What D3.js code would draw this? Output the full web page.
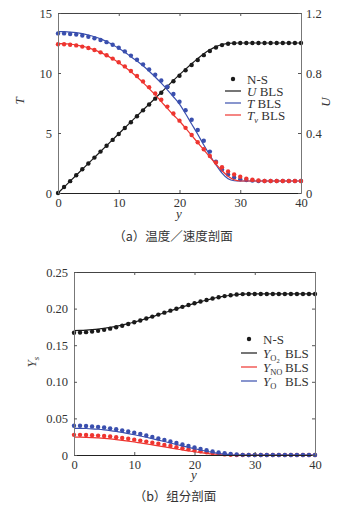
<!DOCTYPE html>
<html>
<head>
<meta charset="utf-8">
<script src="https://cdn.jsdelivr.net/npm/d3@7"></script>
<style>
  html, body { margin: 0; padding: 0; background: #fff; }
  svg { display: block; }
  text { font-family: "Liberation Serif", "DejaVu Serif", serif; fill: #333; }
  .cap { font-family: "Noto Sans CJK SC", sans-serif; }
</style>
</head>
<body>
<div id="chart"></div>
<script>
// Grid of y positions (both panels)
const yPos = [0,1,2,3,4,5,6,7,8,9,10,11,12,13,14,15,16,17,18,19,20,
  21,22,23,24,25,26,27,28,29,30,31,32,33,34,35,36,37,38,39,40];

// Panel (a): temperature / velocity
const uBls = [0,0.0395,0.079,0.1185,0.158,0.1975,0.237,0.2765,0.316,0.3555,0.395,
  0.4345,0.474,0.5135,0.553,0.5925,0.632,0.6715,0.711,0.7505,0.789,
  0.826,0.862,0.896,0.928,0.955,0.976,0.990,0.998,1,1,1,1,1,1,1,1,1,1,1,1];
const uNs = [0,0.04,0.079,0.118,0.158,0.197,0.236,0.276,0.315,0.354,0.393,
  0.433,0.472,0.512,0.551,0.590,0.629,0.668,0.707,0.745,0.782,
  0.818,0.853,0.887,0.919,0.947,0.970,0.986,0.995,0.999,1,1,1,1,1,1,1,1,1,1,1];
const tBls = [13.45,13.44,13.41,13.36,13.28,13.17,13.02,12.84,12.62,12.36,12.06,
  11.73,11.36,11.0,10.6,10.15,9.67,9.15,8.6,8.02,7.4,
  6.6,5.75,4.9,4.0,3.15,2.35,1.65,1.18,1.02,1,1,1,1,1,1,1,1,1,1,1];
const tNs = [13.3,13.3,13.25,13.2,13.12,13.02,12.9,12.75,12.57,12.35,12.1,
  11.8,11.45,11.1,10.72,10.3,9.85,9.37,8.85,8.25,7.6,
  6.9,6.1,5.25,4.35,3.45,2.6,1.95,1.55,1.3,1.15,1.08,1.04,1,1,1,1,1,1,1,1];
const tvBls = [12.45,12.44,12.4,12.33,12.23,12.1,11.93,11.72,11.47,11.18,10.85,
  10.5,10.1,9.67,9.2,8.7,8.17,7.62,7.05,6.5,6.0,
  5.4,4.8,4.2,3.6,3.0,2.4,1.85,1.4,1.1,1,1,1,1,1,1,1,1,1,1,1];
const tvNs = [12.4,12.4,12.36,12.3,12.2,12.08,11.92,11.72,11.48,11.2,10.9,
  10.55,10.17,9.75,9.3,8.82,8.3,7.77,7.2,6.62,6.03,
  5.43,4.83,4.23,3.65,3.08,2.55,2.15,1.8,1.55,1.35,1.2,1.1,1.04,1,1,1,1,1,1,1];

// Panel (b): species mass fractions
const o2Bls = [0.170,0.1702,0.1706,0.1712,0.172,0.173,0.1743,0.1758,0.1775,0.1795,0.1817,
  0.184,0.1865,0.189,0.1917,0.1943,0.197,0.1997,0.2023,0.2048,0.2072,
  0.2095,0.2117,0.2137,0.2155,0.217,0.2182,0.2192,0.2198,0.22,0.22,0.22,0.22,0.22,0.22,0.22,0.22,0.22,0.22,0.22,0.22];
const o2Ns = [0.167,0.1672,0.1678,0.1686,0.1696,0.171,0.1726,0.1745,0.1766,0.1789,0.1813,
  0.1838,0.1864,0.1891,0.1918,0.1945,0.1972,0.1998,0.2024,0.2049,0.2073,
  0.2096,0.2118,0.2138,0.2156,0.2171,0.2183,0.2192,0.2198,0.22,0.22,0.22,0.22,0.22,0.22,0.22,0.22,0.22,0.22,0.22,0.22];
const noBls = [0.0245,0.0244,0.0242,0.0238,0.0233,0.0227,0.022,0.0211,0.0201,0.019,0.0178,
  0.0165,0.0152,0.0138,0.0124,0.011,0.0096,0.0082,0.0069,0.0056,0.0044,
  0.0033,0.0023,0.0014,0.0007,0.0002,0,0,0,0,0,0,0,0,0,0,0,0,0,0,0];
const noNs = [0.0275,0.0275,0.0273,0.027,0.0265,0.0259,0.0252,0.0243,0.0233,0.0222,0.021,
  0.0197,0.0183,0.0168,0.0153,0.0138,0.0122,0.0107,0.0092,0.0077,0.0063,
  0.005,0.0037,0.0026,0.0016,0.0008,0.0003,0,0,0,0,0,0,0,0,0,0,0,0,0,0];
const oBls = [0.0365,0.0364,0.0362,0.0358,0.0352,0.0344,0.0334,0.0322,0.0308,0.0293,0.0277,
  0.026,0.0242,0.0223,0.0204,0.0184,0.0164,0.0144,0.0124,0.0105,0.0086,
  0.0068,0.0051,0.0036,0.0022,0.0011,0.0003,0,0,0,0,0,0,0,0,0,0,0,0,0,0];
const oNs = [0.040,0.0399,0.0396,0.0391,0.0384,0.0375,0.0364,0.0351,0.0337,0.0321,0.0304,
  0.0286,0.0267,0.0247,0.0227,0.0206,0.0185,0.0164,0.0143,0.0122,0.0102,
  0.0083,0.0065,0.0049,0.0035,0.0023,0.0013,0.0006,0.0002,0,0,0,0,0,0,0,0,0,0,0,0];

// Tick labels
const xTicks = [0, 10, 20, 30, 40];
const tTicks = [0, 5, 10, 15];
const uTicks = [0, 0.4, 0.8, 1.2];
const ysTicks = [0, 0.05, 0.10, 0.15, 0.20, 0.25];

const BLACK = "#1a1a1a", BLUE = "#3a4fae", RED = "#ee3530";
const SERIF = "'Liberation Serif', 'DejaVu Serif', serif";

const width = 342, height = 512;
const svg = d3.select("#chart").append("svg")
    .attr("width", width).attr("height", height);

function zip(ys) { return yPos.map((y, i) => [y, ys[i]]); }

function drawSeries(g, x, y, line, dots, color) {
  g.append("path")
      .datum(zip(line))
      .attr("fill", "none")
      .attr("stroke", color)
      .attr("stroke-width", 1.2)
      .attr("d", d3.line().x(d => x(d[0])).y(d => y(d[1])).curve(d3.curveMonotoneX));
  g.append("g").selectAll("circle")
      .data(zip(dots))
      .join("circle")
      .attr("cx", d => x(d[0]))
      .attr("cy", d => y(d[1]))
      .attr("r", 2.2)
      .attr("fill", color);
}

// frame with inward ticks, MATLAB style
function drawFrame(g, x, y, yTicks, yFmt, rightAxis) {
  const [x0, x1] = x.range();
  const [y0, y1] = y.range();
  const tk = 3;
  g.append("g")
      .attr("transform", `translate(0,${y0})`)
      .call(d3.axisBottom(x).tickValues(xTicks).tickSize(-tk).tickPadding(5).tickSizeOuter(0))
      .call(a => a.select(".domain").attr("stroke", "#222"));
  g.append("g")
      .attr("transform", `translate(0,${y1})`)
      .call(d3.axisTop(x).tickValues(xTicks).tickSize(-tk).tickFormat("").tickSizeOuter(0))
      .call(a => a.select(".domain").attr("stroke", "#444"));
  g.append("g")
      .attr("transform", `translate(${x0},0)`)
      .call(d3.axisLeft(y).tickValues(yTicks).tickFormat(yFmt).tickSize(-tk).tickPadding(6).tickSizeOuter(0))
      .call(a => a.select(".domain").attr("stroke", "#777"));
  const r = g.append("g").attr("transform", `translate(${x1},0)`);
  if (rightAxis) {
    r.call(d3.axisRight(rightAxis.scale).tickValues(rightAxis.ticks).tickFormat(rightAxis.fmt)
        .tickSize(-tk).tickPadding(5).tickSizeOuter(0));
  } else {
    r.call(d3.axisRight(y).tickValues(yTicks).tickFormat("").tickSize(-tk).tickSizeOuter(0));
  }
  r.select(".domain").attr("stroke", "#777");
  g.selectAll("g").attr("font-family", SERIF).attr("font-size", 12.5);
  g.selectAll(".tick line").attr("stroke", "#555");
  g.selectAll(".tick text").attr("fill", "#333");
}

function legend(g, x0, yStart, step, items) {
  items.forEach((it, i) => {
    const yy = yStart + i * step;
    if (it.dot) {
      g.append("circle").attr("cx", x0 + 8).attr("cy", yy).attr("r", 2.2).attr("fill", BLACK);
    } else {
      g.append("line").attr("x1", x0).attr("x2", x0 + 16).attr("y1", yy).attr("y2", yy)
          .attr("stroke", it.color).attr("stroke-width", 1.2);
    }
    const t = g.append("text").attr("x", x0 + 22).attr("y", yy + 4.5)
        .style("font-size", "13px");
    it.parts(t);
  });
}

// ---------- Panel (a) ----------
{
  const g = svg.append("g");
  const x = d3.scaleLinear().domain([0, 40]).range([58, 301]);
  const yT = d3.scaleLinear().domain([0, 15]).range([193, 13]);
  const yU = d3.scaleLinear().domain([0, 1.2]).range([193, 13]);

  drawSeries(g, x, yU, uBls, uNs, BLACK);
  drawSeries(g, x, yT, tBls, tNs, BLUE);
  drawSeries(g, x, yT, tvBls, tvNs, RED);

  drawFrame(g, x, yT, tTicks, d3.format("d"), {scale: yU, ticks: uTicks, fmt: d => d === 0 ? "0" : d3.format(".1f")(d)});

  g.append("text").attr("transform", "translate(24,101) rotate(-90)")
      .attr("text-anchor", "middle").style("font-size", "13px").style("font-style", "italic").text("T");
  g.append("text").attr("transform", "translate(330,102) rotate(-90)")
      .attr("text-anchor", "middle").style("font-size", "13px").style("font-style", "italic").text("U");
  g.append("text").attr("x", 179).attr("y", 218)
      .attr("text-anchor", "middle").style("font-size", "13px").style("font-style", "italic").text("y");

  legend(g, 225, 79, 12, [
    {dot: true, parts: t => t.text("N-S")},
    {color: BLACK, parts: t => { t.append("tspan").style("font-style", "italic").text("U"); t.append("tspan").text(" BLS"); }},
    {color: BLUE, parts: t => { t.append("tspan").style("font-style", "italic").text("T"); t.append("tspan").text(" BLS"); }},
    {color: RED, parts: t => {
      t.append("tspan").style("font-style", "italic").text("T");
      t.append("tspan").style("font-style", "italic").style("font-size", "8.5px").attr("dy", 3).text("v");
      t.append("tspan").attr("dy", -3).text(" BLS"); }}
  ]);

  g.append("text").attr("class", "cap").attr("x", 173).attr("y", 241)
      .attr("text-anchor", "middle").style("font-size", "12.5px").text("（a）温度／速度剖面");
}

// ---------- Panel (b) ----------
{
  const g = svg.append("g");
  const x = d3.scaleLinear().domain([0, 40]).range([74, 315]);
  const y = d3.scaleLinear().domain([0, 0.25]).range([455, 272]);

  drawSeries(g, x, y, o2Bls, o2Ns, BLACK);
  drawSeries(g, x, y, noBls, noNs, RED);
  drawSeries(g, x, y, oBls, oNs, BLUE);

  drawFrame(g, x, y, ysTicks, d => d === 0 ? "0" : d3.format(".2f")(d), null);

  g.append("text").attr("transform", "translate(36,362) rotate(-90)")
      .attr("text-anchor", "middle").style("font-size", "13px").style("font-style", "italic")
      .call(t => { t.append("tspan").text("Y"); t.append("tspan").style("font-size", "9px").attr("dy", 3).text("s"); });
  g.append("text").attr("x", 194).attr("y", 479)
      .attr("text-anchor", "middle").style("font-size", "13px").style("font-style", "italic").text("y");

  const sub = (t, base, s) => {
    t.append("tspan").style("font-style", "italic").text(base);
    t.append("tspan").style("font-size", "8.5px").attr("dy", 3).text(s);
  };
  legend(g, 241, 339, 14, [
    {dot: true, parts: t => t.text("N-S")},
    {color: BLACK, parts: t => { sub(t, "Y", "O");
      t.append("tspan").style("font-size", "6.5px").attr("dy", 2).text("2");
      t.append("tspan").attr("dy", -5).attr("x", 285).text("BLS"); }},
    {color: RED, parts: t => { sub(t, "Y", "NO");
      t.append("tspan").attr("dy", -3).attr("x", 285).text("BLS"); }},
    {color: BLUE, parts: t => { sub(t, "Y", "O");
      t.append("tspan").attr("dy", -3).attr("x", 285).text("BLS"); }}
  ]);

  g.append("text").attr("class", "cap").attr("x", 175).attr("y", 501)
      .attr("text-anchor", "middle").style("font-size", "12.5px").text("（b）组分剖面");
}
</script>
</body>
</html>
